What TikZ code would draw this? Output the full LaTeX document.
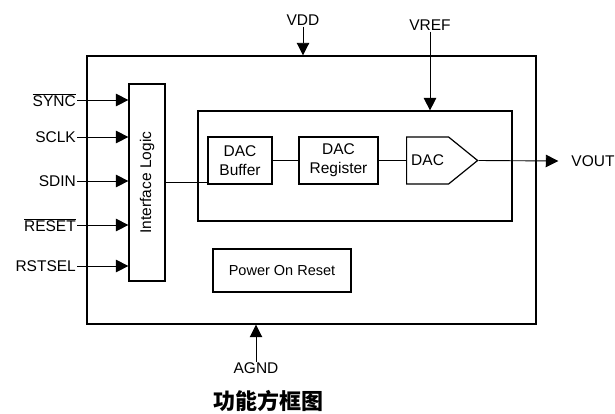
\documentclass[tikz,border=0pt]{standalone}
\usepackage{fontspec}
\setmainfont{Liberation Sans}
\newfontfamily\cjk{Noto Sans CJK SC}
\usepackage{tikz}
\usetikzlibrary{arrows.meta, positioning, shapes.symbols}

\begin{document}
\begin{tikzpicture}[
  x=1pt, y=-1pt,
  every node/.style = {font=\fontsize{15.5}{19}\selectfont},
  block/.style  = {draw, line width=1.2pt, inner sep=0pt, align=center,
                   minimum width=#1},
  blk/.style    = {block=#1, minimum height=47pt},
  pin/.style    = {inner sep=1pt},
  sig/.style    = {line width=0.9pt, -{Triangle[length=12.5pt,width=12.5pt]}},
  wire/.style   = {line width=0.9pt}
]
\useasboundingbox (0,0) rectangle (615,413);

% chip outline and inner blocks
\node[block=449pt, minimum height=268pt, line width=1.4pt] (chip) at (311.5,190) {};
\node[block=197pt, minimum height=36pt, rotate=90]         (iface) at (147,182.5) {Interface Logic};
\node[block=314pt, minimum height=110pt]                   (core) at (355,166) {};
\node[blk=64pt, line width=2pt]                            (buf) at (240,160.5) {DAC\\Buffer};
\node[blk=79pt]                                            (reg) at (338.5,160.5) {DAC\\Register};
\node[draw, line width=1.2pt, signal, signal to=east, signal pointer angle=78,
      minimum width=71pt, minimum height=47pt, inner sep=0pt, anchor=west]
                                                           (dac) at (406,160.5) {DAC};
\node[block=138pt, minimum height=43pt,
      font=\fontsize{14.5}{17}\selectfont]                 (por) at (282,270.5) {Power On Reset};

% digital inputs
\node[pin, anchor=east] (sync)   at (77,100) {$\overline{\mbox{SYNC}}$};
\node[pin, anchor=east] (sclk)   at (77,137) {SCLK};
\node[pin, anchor=east] (sdin)   at (77,181) {SDIN};
\node[pin, anchor=east] (reset)  at (77,225) {$\overline{\mbox{RESET}}$};
\node[pin, anchor=east] (rstsel) at (77,266) {RSTSEL};

\foreach \p in {sync, sclk, sdin, reset, rstsel}
  \draw[sig] (\p.east) -- (\p.east -| iface.north);

% supply, reference, ground, output
\node[pin] (vdd)  at (303,20)  {VDD};
\node[pin] (vref) at (430,25)  {VREF};
\node[pin] (agnd) at (256,368) {AGND};
\node[pin] (vout) at (593,161) {VOUT};

\draw[sig] (vdd.south)  -- (vdd.south |- chip.north);
\draw[sig] (vref.south) -- (vref.south |- core.north);
\draw[sig] ([yshift=-1pt]agnd.north) -- (agnd.north |- chip.south);
\draw[sig] (dac.east) -- ([xshift=-12pt]vout.west);

% data path
\draw[wire] (iface.south) -- (iface.south -| buf.west);
\draw[wire] (buf.east) -- (reg.west);
\draw[wire] (reg.east) -- (reg.east -| dac.west);

% caption
\node[font=\cjk\bfseries\fontsize{22}{24}\selectfont] (cap) at (268,401) {功能方框图};
\end{tikzpicture}
\end{document}
